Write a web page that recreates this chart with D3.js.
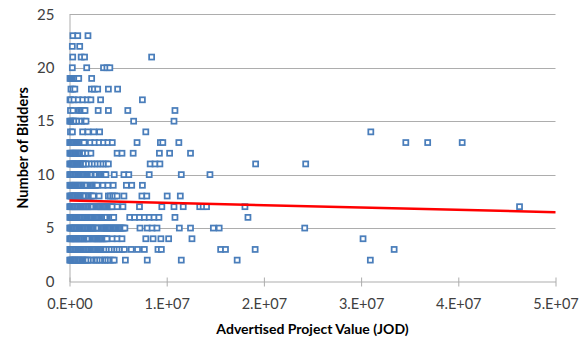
<!DOCTYPE html>
<html>
<head>
<meta charset="utf-8">
<script src="https://cdn.jsdelivr.net/npm/d3@7"></script>
<style>
  html, body { margin: 0; padding: 0; background: #fff; }
  svg { display: block; font-family: Lato, "Open Sans", sans-serif; }
</style>
</head>
<body>
<svg id="chart" width="588" height="342"></svg>
<script>
// Advertised project values (millions of JOD), grouped by number of bidders
const v2  = [0.02,0.1,0.2,0.3,0.38,0.5,0.6,0.7,0.82,0.92,1.0,1.12,1.25,1.35,1.45,1.58,1.7,1.8,1.9,2.2,2.45,2.7,2.85,3.1,3.35,3.6,3.72,3.95,4.2,4.45,4.6,5.75,8.0,11.5,17.25,30.95];
const v3  = [0.03,0.12,0.22,0.3,0.4,0.52,0.62,0.72,0.85,0.95,1.05,1.15,1.28,1.4,1.5,1.6,1.72,1.85,1.95,2.05,2.18,2.3,2.42,2.55,2.65,2.78,2.9,3.0,3.12,3.25,3.38,3.5,3.62,3.75,4.05,4.3,4.6,4.85,5.1,5.4,5.65,6.35,7.0,7.7,9.1,9.45,15.55,16.05,19.1,33.4];
const v4  = [0.02,0.12,0.2,0.32,0.42,0.55,0.65,0.75,0.88,1.0,1.1,1.2,1.32,1.45,1.55,1.68,1.8,1.9,2.0,2.3,2.4,2.52,2.65,2.78,2.9,3.0,3.12,3.25,3.38,3.5,3.62,3.75,3.85,4.4,4.9,5.4,7.85,8.6,9.4,10.2,12.6,30.2];
const v5  = [0.02,0.1,0.2,0.3,0.4,0.5,0.62,0.72,0.82,0.95,1.05,1.15,1.28,1.4,1.5,1.62,1.75,1.85,1.95,2.08,2.2,2.3,2.42,2.55,2.68,2.8,2.95,3.25,3.35,3.48,3.6,3.72,3.85,3.95,4.08,4.2,4.32,4.45,4.58,4.7,4.82,4.95,5.08,5.2,5.32,5.45,5.58,5.7,7.25,8.0,8.5,9.0,11.3,12.45,14.8,15.4,24.2];
const v6  = [0.03,0.12,0.22,0.32,0.42,0.55,0.65,0.78,0.88,0.98,1.1,1.2,1.32,1.45,1.55,1.65,1.78,1.9,2.0,2.12,2.25,2.35,2.48,2.6,2.72,2.85,2.95,3.08,3.2,3.32,3.45,3.58,3.7,3.82,4.15,4.28,4.4,4.55,6.2,6.7,7.2,7.7,8.2,8.7,9.2,10.85,18.36];
const v7  = [0.02,0.1,0.2,0.3,0.4,0.5,0.6,0.72,0.82,0.92,1.05,1.15,1.25,1.38,1.5,1.6,1.72,1.85,1.95,2.05,2.18,2.3,2.42,2.7,2.82,2.95,3.05,3.18,3.3,3.42,3.55,3.68,3.8,3.92,4.05,4.18,4.3,4.4,4.9,5.5,7.2,9.5,10.75,11.7,13.4,13.75,14.1,18.05,46.3];
const v8  = [0.02,0.12,0.22,0.32,0.42,0.52,0.62,0.75,0.85,0.95,1.05,1.18,1.28,1.4,1.52,1.62,1.92,2.05,2.2,2.32,2.45,3.05,4.0,4.2,4.45,4.65,4.9,5.6,7.45,7.95,10.05,11.4];
const v9  = [0.03,0.12,0.22,0.32,0.45,0.55,0.65,0.78,0.9,1.0,1.1,1.22,1.35,1.45,1.55,1.68,1.8,2.1,2.2,2.32,2.45,2.58,2.7,2.85,3.45,3.95,4.5,5.85,6.4,7.5];
const v10 = [0.02,0.1,0.2,0.3,0.4,0.52,0.62,0.72,0.85,0.95,1.05,1.18,1.3,1.4,1.52,1.65,1.78,1.9,2.0,2.12,2.25,2.35,2.62,2.75,3.05,3.15,3.28,3.4,3.52,3.65,3.75,4.6,5.6,6.1,8.2,11.5,14.45];
const v11 = [0.02,0.12,0.22,0.32,0.42,0.52,0.65,0.75,0.85,0.98,1.08,1.2,1.32,1.42,1.55,1.65,1.95,2.25,2.55,2.85,3.15,3.45,3.75,4.0,8.3,8.8,9.3,19.15,24.3];
const v12 = [0.03,0.12,0.22,0.32,0.42,0.55,0.65,0.75,0.88,1.0,1.1,1.22,1.35,1.45,1.55,1.85,2.2,4.9,5.4,6.55,9.25,10.3,12.45];
const v13 = [0.02,0.12,0.22,0.32,0.42,0.52,0.65,0.75,0.85,0.98,1.1,1.2,1.32,1.45,1.5,2.15,2.6,3.05,3.5,3.95,4.4,6.95,9.35,9.6,11.25,34.6,36.85,40.4];
const v14 = [0.1,0.3,1.35,1.9,2.5,3.1,7.85,31.0];
const v15 = [0.02,0.12,0.22,0.32,0.42,0.55,0.65,0.95,1.25,1.55,1.7,6.6,10.75];
const v16 = [0.1,0.35,1.0,1.15,1.3,1.45,1.6,2.95,4.0,6.0,10.85];
const v17 = [0.05,0.15,0.46,0.9,1.36,1.83,2.2,3.2,7.5];
const v18 = [0.15,0.35,0.55,2.25,2.55,2.9,4.0,4.95];
const v19 = [0.05,0.15,0.25,0.35,0.5,0.6,0.7,0.8,0.95,2.28];
const v20 = [0.29,1.77,3.5,3.85,4.15];
const v21 = [0.33,1.2,1.55,8.45];
const v22 = [0.29,1.05];
const v23 = [0.35,0.85,1.9];

const bidderCounts = [2,3,4,5,6,7,8,9,10,11,12,13,14,15,16,17,18,19,20,21,22,23];
const valueRows = [v2,v3,v4,v5,v6,v7,v8,v9,v10,v11,v12,v13,v14,v15,v16,v17,v18,v19,v20,v21,v22,v23];
const VALUE_UNIT = 1e6;

// Linear trend (value, bidders) at both ends of the axis
const trendX = [0, 5e7];
const trendY = [7.57, 6.49];

const xTicks = [0, 1e7, 2e7, 3e7, 4e7, 5e7];
const xTickLabels = ["0.E+00", "1.E+07", "2.E+07", "3.E+07", "4.E+07", "5.E+07"];
const yTicks = [0, 5, 10, 15, 20, 25];

const points = [];
bidderCounts.forEach((b, i) => valueRows[i].forEach(v => points.push({ value: v * VALUE_UNIT, bidders: b })));

const svg = d3.select("#chart");
const x = d3.scaleLinear().domain([0, 5e7]).range([69.5, 555.5]);
const y = d3.scaleLinear().domain([0, 25]).range([281.5, 14.3]);

const gridColor = "#adadad";

// Horizontal gridlines
svg.append("g")
  .selectAll("line")
  .data(yTicks.filter(t => t > 0))
  .join("line")
  .attr("x1", x(0)).attr("x2", x(5e7))
  .attr("y1", d => Math.round(y(d)) + 0.5)
  .attr("y2", d => Math.round(y(d)) + 0.5)
  .attr("stroke", gridColor).attr("stroke-width", 1);

// Y axis
const yAxis = svg.append("g")
  .attr("transform", `translate(${x(0)},0)`)
  .call(d3.axisLeft(y).tickValues(yTicks).tickSize(0).tickSizeOuter(0).tickPadding(15));
yAxis.select(".domain").attr("stroke", gridColor);
yAxis.selectAll("text")
  .attr("font-size", 15).attr("fill", "#404040")
  .attr("font-family", "Lato, 'Open Sans', sans-serif");

// X axis with ticks crossing the line
const xAxis = svg.append("g")
  .attr("transform", `translate(0,${y(0)})`)
  .call(d3.axisBottom(x).tickValues(xTicks).tickFormat((d, i) => xTickLabels[i]).tickSize(5).tickSizeOuter(0));
xAxis.select(".domain").attr("stroke", gridColor);
xAxis.selectAll(".tick line").attr("y1", -4).attr("stroke", gridColor);
xAxis.selectAll("text")
  .attr("y", 27).attr("dy", 0)
  .attr("font-size", 14.5).attr("fill", "#404040")
  .attr("font-family", "Lato, 'Open Sans', sans-serif");

// Scatter markers (hollow squares)
svg.append("g")
  .selectAll("rect")
  .data(points)
  .join("rect")
  .attr("x", d => x(d.value) - 2.5)
  .attr("y", d => y(d.bidders) - 2.5)
  .attr("width", 5).attr("height", 5)
  .attr("fill", "#fff")
  .attr("stroke", "#4a7ebb")
  .attr("stroke-width", 1.75);

// Trend line
svg.append("line")
  .attr("x1", x(trendX[0])).attr("y1", y(trendY[0]))
  .attr("x2", x(trendX[1])).attr("y2", y(trendY[1]))
  .attr("stroke", "#ff0000").attr("stroke-width", 2.5);

// Axis titles
svg.append("text")
  .attr("x", (x(0) + x(5e7)) / 2).attr("y", 333.5)
  .attr("text-anchor", "middle")
  .attr("font-size", 14).attr("font-weight", "bold").attr("fill", "#000")
  .text("Advertised Project Value (JOD)");

svg.append("text")
  .attr("transform", `translate(28,${(y(0) + y(25)) / 2}) rotate(-90)`)
  .attr("text-anchor", "middle")
  .attr("font-size", 14.5).attr("font-weight", "bold").attr("fill", "#000")
  .text("Number of Bidders");
</script>
</body>
</html>
